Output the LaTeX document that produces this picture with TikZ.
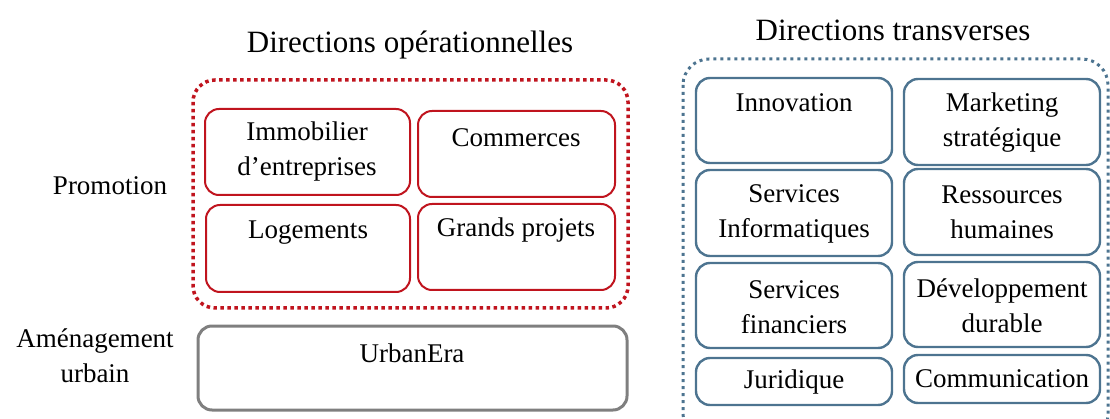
\documentclass[tikz,border=0pt]{standalone}
\usepackage{fontspec}
\setmainfont{Liberation Serif}
\definecolor{redb}{HTML}{C0141E}
\definecolor{blueb}{HTML}{4D7490}
\definecolor{grayb}{HTML}{7F7F7F}
\tikzset{
  txt/.style={font=\fontsize{27}{35}\selectfont, align=center, inner sep=0pt},
  ttl/.style={font=\fontsize{31}{36}\selectfont, inner sep=0pt},
  redbox/.style={draw=redb, line width=2pt, rounded corners=14pt},
  bluebox/.style={draw=blueb, line width=2.4pt, rounded corners=14pt},
  graybox/.style={draw=grayb, line width=3pt, rounded corners=14pt},
  reddots/.style={draw=redb, line width=3.5pt, dash pattern=on 3.5pt off 3.5pt, rounded corners=22pt},
  bluedots/.style={draw=blueb, line width=3pt, dash pattern=on 3pt off 4pt, rounded corners=26pt},
}
\begin{document}
\begin{tikzpicture}[x=1pt,y=-1pt]
\useasboundingbox (0,0) rectangle (1110,419);
% titles
\node[ttl] (t1) at (410,45) {Directions opérationnelles};
\node[ttl] (t2) at (893,30) {Directions transverses};
% red group
\draw[reddots] (193,80) rectangle (628,308);
\draw[redbox] (205,109) rectangle (410,195);
\draw[redbox] (418,111) rectangle (615,197);
\draw[redbox] (206,205) rectangle (410,292);
\draw[redbox] (418,204) rectangle (615,290);
\node[txt] (immo) at (307,152) {Immobilier\\d’entreprises};
\node[txt] (comm) at (516,138) {Commerces};
\node[txt] (loge) at (308,233) {Logements};
\node[txt] (gp) at (516,230) {Grands projets};
\node[txt] (promo) at (110,186) {Promotion};
% urban
\draw[graybox] (198,326) rectangle (627,410);
\node[txt] (urban) at (412,353) {UrbanEra};
\node[txt] (amen) at (95,356) {Aménagement\\urbain};
% blue group
\draw[bluedots] (683,59) rectangle (1108,440);
\draw[bluebox] (696,78) rectangle (892,163);
\draw[bluebox] (904,79) rectangle (1100,165);
\draw[bluebox] (696,170) rectangle (892,256);
\draw[bluebox] (904,169) rectangle (1100,255);
\draw[bluebox] (696,263) rectangle (892,348);
\draw[bluebox] (904,262) rectangle (1100,347);
\draw[bluebox] (696,358) rectangle (892,405);
\draw[bluebox] (904,355) rectangle (1100,403);
\node[txt] (innov) at (794,103) {Innovation};
\node[txt] (mkt) at (1002,123) {Marketing\\stratégique};
\node[txt] (si) at (794,214) {Services\\Informatiques};
\node[txt] (rh) at (1002,212) {Ressources\\humaines};
\node[txt] (sf) at (794,307) {Services\\financiers};
\node[txt] (dd) at (1002,306) {Développement\\durable};
\node[txt] (jur) at (794,382) {Juridique};
\node[txt] (com) at (1002,379) {Communication};
\end{tikzpicture}
\end{document}
